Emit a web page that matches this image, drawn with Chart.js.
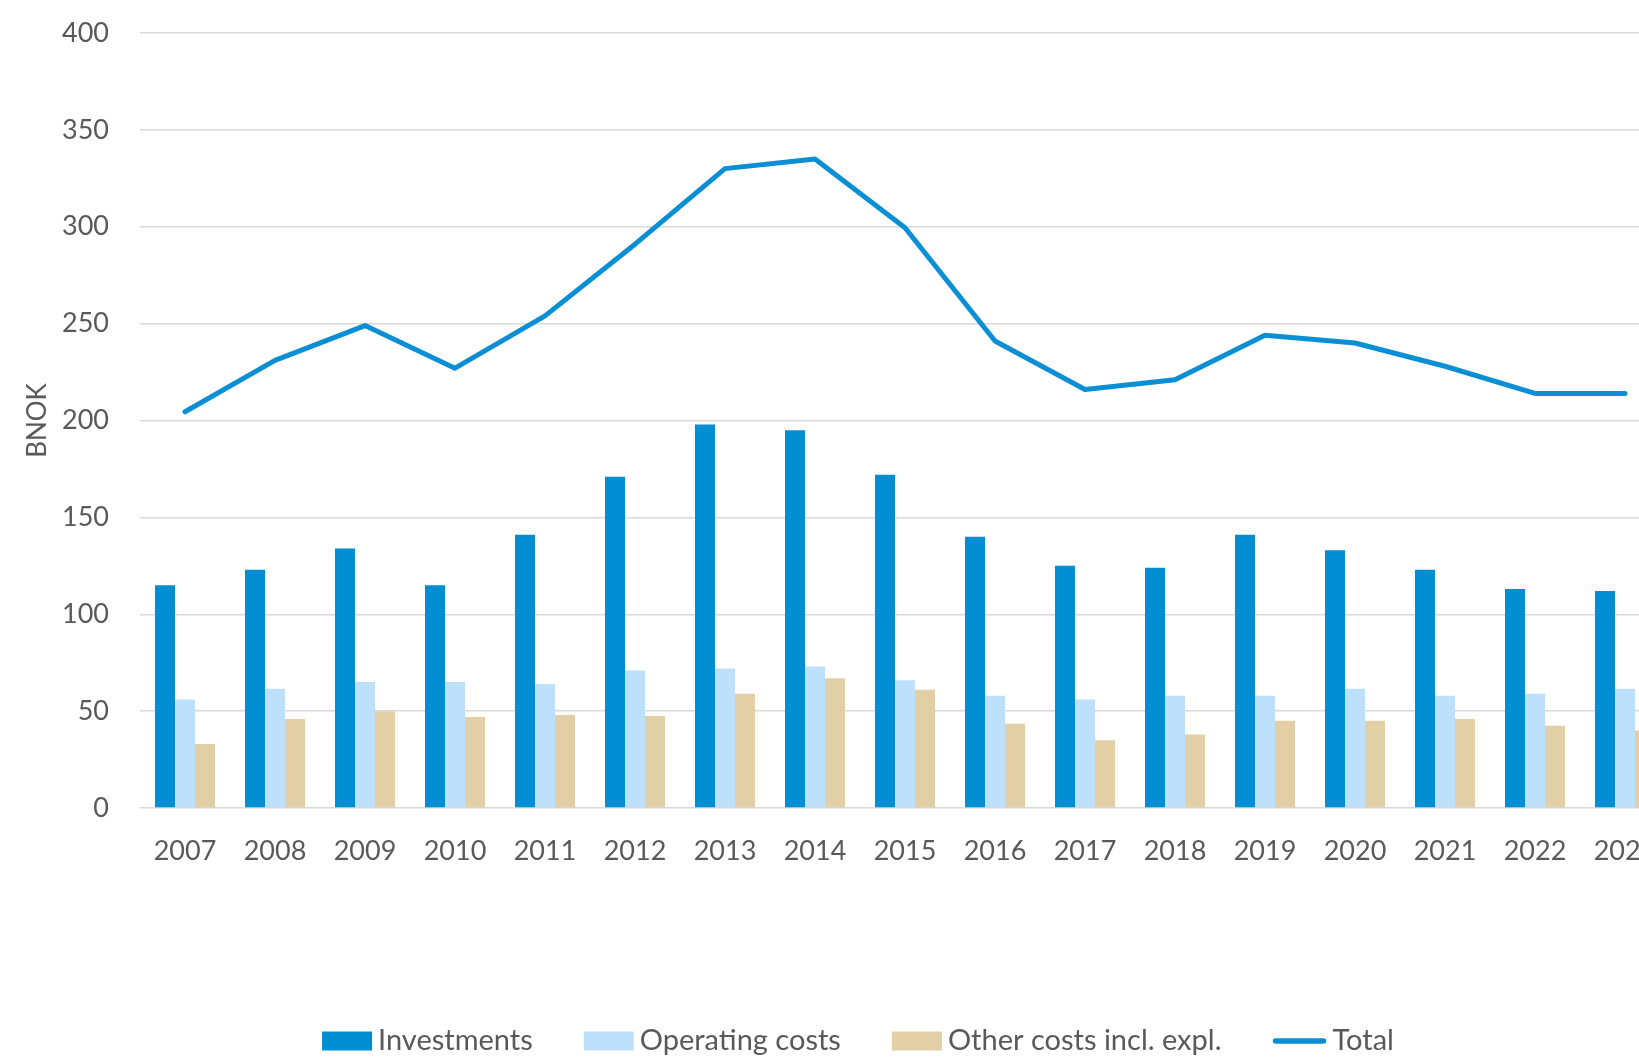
<!DOCTYPE html>
<html>
<head>
<meta charset="utf-8">
<script src="https://cdn.jsdelivr.net/npm/chart.js@4/dist/chart.umd.min.js"></script>
<style>
  html, body { margin: 0; padding: 0; background: #fff; overflow: hidden; }
  #wrap { position: absolute; left: 0; top: 0; width: 1716px; height: 1057px; }
</style>
</head>
<body>
<div id="wrap"><canvas id="costChart" width="1716" height="1057"></canvas></div>
<script>
const years = ["2007", "2008", "2009", "2010", "2011", "2012", "2013", "2014", "2015",
               "2016", "2017", "2018", "2019", "2020", "2021", "2022", "2023"];
const investments = [115, 123, 134, 115, 141, 171, 198, 195, 172, 140, 125, 124, 141, 133, 123, 113, 112];
const operatingCosts = [56, 61.5, 65, 65, 64, 71, 72, 73, 66, 58, 56, 58, 58, 61.5, 58, 59, 61.5];
const otherCosts = [33, 46, 50, 47, 48, 47.5, 59, 67, 61, 43.5, 35, 38, 45, 45, 46, 42.5, 40];
const total = [204.5, 231, 249, 227, 254, 291, 330, 335, 299.5, 241, 216, 221, 244, 240, 228, 214, 214];
const yTicks = [0, 50, 100, 150, 200, 250, 300, 350, 400];

const FONT = "Lato, 'Open Sans', sans-serif";
const TEXT = "#595959";

// legend drawn by hand so box/text spacing can be tuned
const bottomLegend = {
    id: "bottomLegend",
    afterDraw(chart) {
        const ctx = chart.ctx;
        const y = 1041;
        ctx.save();
        ctx.font = `29px ${FONT}`;
        ctx.textBaseline = "middle";
        const items = chart.data.datasets.map(ds => ({
            label: ds.label,
            color: ds.type === "line" ? ds.borderColor : ds.backgroundColor,
            isLine: ds.type === "line",
            textW: ctx.measureText(ds.label).width
        }));
        const gap = 6, spacing = 51;
        const widths = items.map(it => (it.isLine ? 54 : 50) + gap + it.textW);
        const totalW = widths.reduce((a, b) => a + b, 0) + spacing * (items.length - 1);
        let x = chart.width / 2 - totalW / 2;
        items.forEach((it, i) => {
            if (it.isLine) {
                ctx.strokeStyle = it.color;
                ctx.lineWidth = 5.5;
                ctx.lineCap = "round";
                ctx.beginPath();
                ctx.moveTo(x + 3, y);
                ctx.lineTo(x + 51, y);
                ctx.stroke();
                ctx.fillStyle = TEXT;
                ctx.fillText(it.label, x + 54 + gap, y);
            } else {
                ctx.fillStyle = it.color;
                ctx.fillRect(x, y - 9.5, 50, 19);
                ctx.fillStyle = TEXT;
                ctx.fillText(it.label, x + 50 + gap, y);
            }
            x += widths[i] + spacing;
        });
        ctx.restore();
    }
};

new Chart(document.getElementById("costChart"), {
    data: {
        labels: years,
        datasets: [
            { type: "bar", label: "Investments", data: investments, backgroundColor: "#018ed3", order: 2 },
            { type: "bar", label: "Operating costs", data: operatingCosts, backgroundColor: "#bde0fd", order: 2 },
            { type: "bar", label: "Other costs incl. expl.", data: otherCosts, backgroundColor: "#e2cfa5", order: 2 },
            {
                type: "line", label: "Total", data: total,
                borderColor: "#0a8fd4", borderWidth: 5, pointRadius: 0,
                borderCapStyle: "round", borderJoinStyle: "round", tension: 0, order: 1
            }
        ]
    },
    options: {
        responsive: false,
        animation: false,
        layout: { padding: { top: 33, right: 46, bottom: 0, left: 0 } },
        datasets: { bar: { categoryPercentage: 0.667, barPercentage: 1.0 } },
        plugins: { legend: { display: false }, tooltip: { enabled: false } },
        scales: {
            x: {
                grid: { display: false },
                border: { display: false },
                ticks: { color: TEXT, font: { family: FONT, size: 27 }, padding: 19, maxRotation: 0 },
                afterFit: s => { s.height = 1057 - 808; }
            },
            y: {
                min: 0, max: 400,
                afterBuildTicks: s => { s.ticks = yTicks.map(v => ({ value: v })); },
                grid: { color: "#d9d9d9", lineWidth: 1.5, drawTicks: false },
                border: { display: false },
                ticks: { color: TEXT, font: { family: FONT, size: 27 }, padding: 31 },
                title: { display: true, text: "BNOK", color: TEXT, font: { family: FONT, size: 26 }, padding: { top: 22, bottom: 0 } },
                afterFit: s => { s.width = 140; s.paddingTop = 0; s.paddingBottom = 0; }
            }
        }
    },
    plugins: [bottomLegend]
});
</script>
</body>
</html>
